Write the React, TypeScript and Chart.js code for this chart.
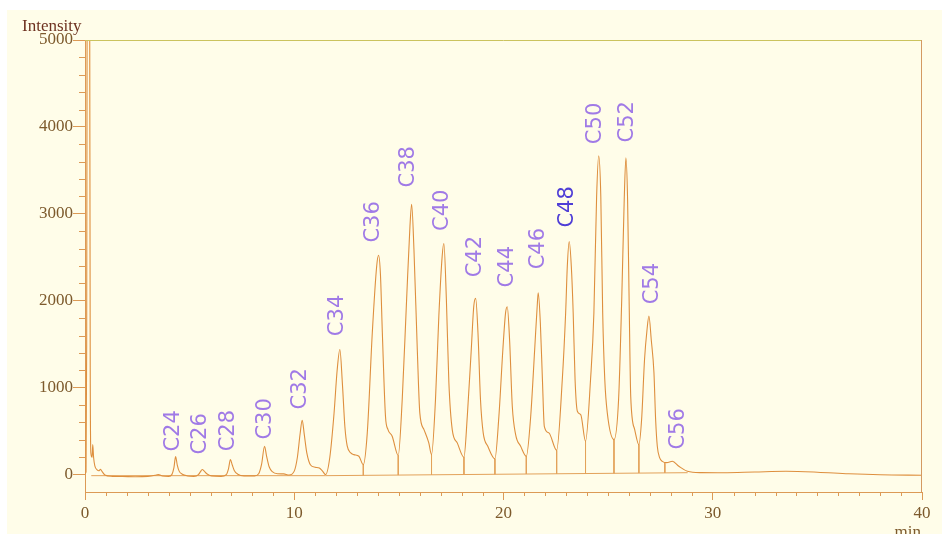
import React, { useEffect, useRef } from 'react';
import { Chart, registerables } from 'chart.js';

Chart.register(...registerables);

// ---- data ----
const signalTimes = [
  0.0, 0.05, 0.08, 0.11, 0.17, 0.22, 0.25, 0.28, 0.34, 0.37, 0.41, 0.47, 0.58, 0.66, 0.74, 0.82, 0.95,
  1.3, 1.8, 2.4, 3.0, 3.35, 3.5, 3.7, 4.0,
  4.15, 4.25, 4.33, 4.41, 4.5, 4.65, 4.9, 5.2,
  5.42, 5.52, 5.6, 5.7, 5.82, 6.05, 6.5,
  6.75, 6.86, 6.95, 7.04, 7.14, 7.3, 7.6, 8.1,
  8.3, 8.44, 8.58, 8.68, 8.8, 8.95, 9.2, 9.5, 9.75,
  10.0, 10.15, 10.28, 10.38, 10.48, 10.6, 10.78, 11.0, 11.2, 11.35, 11.5,
  11.7, 11.9, 12.05, 12.18, 12.3, 12.42, 12.53, 12.7, 12.85, 13.09, 13.3,
  13.49, 13.73, 13.94, 14.03, 14.12, 14.21, 14.36, 14.48, 14.68, 14.97,
  15.16, 15.37, 15.53, 15.61, 15.72, 15.88, 16.0, 16.2, 16.43, 16.56,
  16.75, 16.91, 17.07, 17.15, 17.27, 17.39, 17.55, 17.79, 18.11,
  18.27, 18.46, 18.58, 18.67, 18.78, 18.9, 19.03, 19.25, 19.59,
  19.78, 19.97, 20.1, 20.18, 20.29, 20.42, 20.58, 20.82, 21.09,
  21.3, 21.49, 21.62, 21.66, 21.76, 21.86, 21.95, 22.17, 22.54,
  22.81, 22.97, 23.05, 23.14, 23.24, 23.33, 23.42, 23.53, 23.69, 23.92,
  24.16, 24.32, 24.45, 24.55, 24.65, 24.74, 24.84, 24.96, 25.28,
  25.5, 25.65, 25.77, 25.85, 25.93, 26.01, 26.08, 26.27, 26.47,
  26.6, 26.74, 26.86, 26.95, 27.06, 27.19, 27.27, 27.35, 27.46, 27.59, 27.8, 28.07, 28.38, 28.79, 29.42,
  30.5, 32, 33.5, 35, 36.5, 38, 40,
];
const signalIntensities = [
  10, 30, 1500, 7000, 9500, 6000, 1200, 250, 200, 345, 200, 100, 55, 45, 60, 35, -5,
  -20, -22, -25, -20, -8, 0, -15, -20,
  0, 80, 207, 110, 40, 5, -15, -20,
  0, 35, 58, 40, 10, -15, -20,
  0, 70, 173, 110, 45, 5, -15, -15,
  10, 120, 326, 210, 90, 35, 10, 8, -5,
  40, 200, 470, 626, 460, 250, 110, 85, 75, 40, 0,
  200, 700, 1200, 1440, 1050, 550, 330, 250, 230, 211, 115,
  480, 1632, 2400, 2523, 2300, 1632, 672, 518, 441, 219,
  864, 2016, 2860, 3110, 2592, 1440, 710, 518, 365, 230,
  864, 1824, 2515, 2658, 2016, 1056, 518, 365, 200,
  672, 1440, 1939, 2028, 1632, 864, 480, 326, 181,
  672, 1440, 1863, 1932, 1555, 787, 461, 326, 211,
  672, 1440, 1978, 2093, 1750, 1094, 556, 480, 280,
  1094, 1863, 2400, 2681, 2400, 1863, 1094, 729, 691, 384,
  1094, 1863, 3200, 3667, 3200, 1863, 1094, 710, 403,
  864, 2016, 3168, 3644, 3168, 1900, 900, 518, 346,
  634, 1325, 1670, 1824, 1555, 1171, 634, 326, 196, 153, 138, 153, 96, 38, 23,
  22, 30, 38, 28, 10, -2, -8,
];

const baselineTimes = [0.3, 11.5, 28.8];
const baselineValues = [-12, -12, 22];

const dropTimes = [13.3, 14.97, 16.56, 18.11, 19.59, 21.09, 22.54, 23.92, 25.28, 26.47, 27.71];
const dropTops = [115, 219, 230, 200, 181, 211, 280, 384, 403, 346, 140];
const dropBottoms = [-8, -5, -2, 1, 4, 7, 10, 13, 15, 18, 20];

const peakLabels = ['C24', 'C26', 'C28', 'C30', 'C32', 'C34', 'C36', 'C38', 'C40', 'C42', 'C44', 'C46', 'C48', 'C50', 'C52', 'C54', 'C56'];
const labelTimes = [4.23, 5.52, 6.86, 8.63, 10.3, 12.06, 13.8, 15.48, 17.07, 18.67, 20.18, 21.68, 23.05, 24.4, 25.92, 27.1, 28.37];
const labelBases = [265, 230, 268, 403, 749, 1593, 2669, 3303, 2803, 2270, 2154, 2362, 2842, 3802, 3821, 1959, 288];

const xMajorTicks = [0, 10, 20, 30, 40];
const yMajorTicks = [0, 1000, 2000, 3000, 4000, 5000];

// ---- styles ----
const SIGNAL = '#de8f3e';
const AXIS = '#dc9a55';
const TEXT = '#7d5a2c';
const LABEL = '#a07ae6';
const LABEL_DARK = '#4f3ed6';
const SERIF = '"Liberation Serif", "DejaVu Serif", serif';

const decor = {
  id: 'decor',
  beforeDraw(chart: any) {
    const { ctx, width, height } = chart;
    ctx.save();
    ctx.fillStyle = '#ffffff';
    ctx.fillRect(0, 0, width, height);
    ctx.fillStyle = '#fffde9';
    ctx.fillRect(7, 10, width - 7, height - 10);
    ctx.restore();
  },
  afterDraw(chart: any) {
    const { ctx, chartArea } = chart;
    const xs = chart.scales.x;
    const ys = chart.scales.y;
    ctx.save();
    // frame top / right
    ctx.lineWidth = 1;
    ctx.strokeStyle = '#cbc35e';
    ctx.beginPath();
    ctx.moveTo(chartArea.left, chartArea.top + 0.5);
    ctx.lineTo(chartArea.right, chartArea.top + 0.5);
    ctx.stroke();
    ctx.strokeStyle = '#d49a62';
    ctx.beginPath();
    ctx.moveTo(chartArea.right - 0.5, chartArea.top);
    ctx.lineTo(chartArea.right - 0.5, chartArea.bottom);
    ctx.stroke();
    // minor ticks
    ctx.strokeStyle = AXIS;
    ctx.beginPath();
    for (let v = 200; v < 5000; v += 200) {
      if (yMajorTicks.includes(v)) continue;
      const py = Math.round(ys.getPixelForValue(v)) + 0.5;
      ctx.moveTo(chartArea.left - 6, py);
      ctx.lineTo(chartArea.left, py);
    }
    for (let v = 1; v < 40; v += 1) {
      if (xMajorTicks.includes(v)) continue;
      const px = Math.round(xs.getPixelForValue(v)) + 0.5;
      ctx.moveTo(px, chartArea.bottom);
      ctx.lineTo(px, chartArea.bottom + 4);
    }
    ctx.stroke();
    // axis texts
    ctx.fillStyle = '#6e3220';
    ctx.font = `17px ${SERIF}`;
    ctx.textAlign = 'left';
    ctx.textBaseline = 'alphabetic';
    ctx.fillText('Intensity', 22, 31);
    ctx.fillStyle = TEXT;
    ctx.textAlign = 'right';
    ctx.fillText('min', 921, 537);
    // peak labels
    ctx.font = '21px "DejaVu Sans", sans-serif';
    ctx.textAlign = 'left';
    ctx.textBaseline = 'middle';
    peakLabels.forEach((lab, i) => {
      const px = xs.getPixelForValue(labelTimes[i]);
      const py = ys.getPixelForValue(labelBases[i]);
      ctx.save();
      ctx.translate(px, py);
      ctx.rotate(-Math.PI / 2);
      ctx.fillStyle = lab === 'C48' ? LABEL_DARK : LABEL;
      ctx.fillText(lab, 0, 0);
      ctx.restore();
    });
    ctx.restore();
  },
};

export default function App() {
  const ref = useRef<HTMLCanvasElement>(null);
  useEffect(() => {
    const canvas = ref.current;
    if (!canvas) return;
    const dropData: any[] = [];
    dropTimes.forEach((t, i) => {
      dropData.push({ x: t, y: dropTops[i] });
      dropData.push({ x: t, y: dropBottoms[i] });
      dropData.push({ x: t, y: null });
    });
    const chart = new Chart(canvas, {
      type: 'line',
      data: {
        datasets: [
          {
            data: signalTimes.map((t, i) => ({ x: t, y: signalIntensities[i] })),
            borderColor: SIGNAL,
            borderWidth: 1.1,
            pointRadius: 0,
            cubicInterpolationMode: 'monotone',
            fill: false,
          },
          {
            data: baselineTimes.map((t, i) => ({ x: t, y: baselineValues[i] })),
            borderColor: '#e3a25a',
            borderWidth: 1,
            pointRadius: 0,
            fill: false,
          },
          {
            data: dropData,
            borderColor: '#e3a25a',
            borderWidth: 1,
            pointRadius: 0,
            spanGaps: false,
            fill: false,
          },
        ],
      },
      options: {
        responsive: false,
        animation: false,
        devicePixelRatio: 1,
        layout: { padding: { top: 40, right: 20, left: 0, bottom: 0 } },
        plugins: { legend: { display: false }, tooltip: { enabled: false }, title: { display: false } },
        scales: {
          x: {
            type: 'linear',
            min: 0,
            max: 40,
            afterFit: (s: any) => { s.height = 42; },
            border: { display: true, color: AXIS, width: 1 },
            grid: {
              drawOnChartArea: false,
              drawTicks: true,
              tickLength: 8,
              tickColor: (c: any) => (c.tick && xMajorTicks.includes(c.tick.value) ? AXIS : 'rgba(0,0,0,0)'),
            },
            ticks: {
              stepSize: 1,
              autoSkip: false,
              maxRotation: 0,
              padding: 3,
              color: TEXT,
              font: { family: SERIF, size: 17 },
              callback: (v: any) => (xMajorTicks.includes(Number(v)) ? String(v) : ''),
            },
          },
          y: {
            type: 'linear',
            min: -200,
            max: 5000,
            afterFit: (s: any) => { s.width = 85; },
            border: { display: true, color: AXIS, width: 1 },
            grid: {
              drawOnChartArea: false,
              drawTicks: true,
              tickLength: 12,
              tickColor: (c: any) => (c.tick && yMajorTicks.includes(c.tick.value) ? AXIS : 'rgba(0,0,0,0)'),
            },
            ticks: {
              stepSize: 200,
              autoSkip: false,
              padding: 0,
              color: TEXT,
              font: { family: SERIF, size: 17 },
              callback: (v: any) => (yMajorTicks.includes(Number(v)) ? String(v) : ''),
            },
          },
        },
      },
      plugins: [decor],
    } as any);
    return () => chart.destroy();
  }, []);
  return (
    <canvas
      ref={ref}
      width={942}
      height={534}
      style={{ position: 'absolute', left: 0, top: 0, width: 942, height: 534 }}
    />
  );
}
